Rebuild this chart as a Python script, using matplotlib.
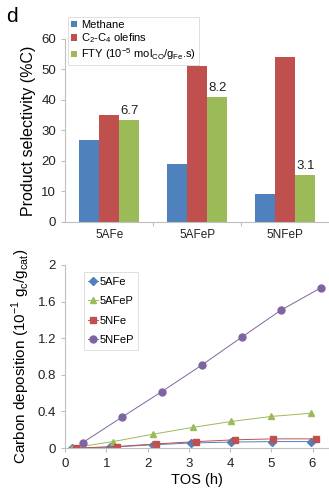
import numpy as np
import matplotlib
matplotlib.use("Agg")
import matplotlib.pyplot as plt

plt.rcParams["font.family"] = ["Liberation Sans", "DejaVu Sans"]
plt.rcParams["mathtext.fontset"] = "custom"
plt.rcParams["mathtext.rm"] = "Liberation Sans"

# Product selectivity per catalyst
catalysts = ["5AFe", "5AFeP", "5NFeP"]
methane = [27, 19, 9]
olefins = [35, 51, 54]
fty = [6.7, 8.2, 3.1]  # 10^-5 mol_CO/g_Fe.s, drawn on the %C axis times 5
fty_scale = 5

# Carbon deposition vs. time on stream
tos_5afe = [0.16, 1.09, 2.12, 3.06, 4.03, 5.01, 5.96]
dep_5afe = [0.0, 0.01, 0.035, 0.055, 0.065, 0.07, 0.07]
tos_5afep = [0.16, 1.16, 2.12, 3.09, 4.03, 5.0, 5.96]
dep_5afep = [0.0, 0.07, 0.15, 0.225, 0.29, 0.345, 0.38]
tos_5nfe = [0.27, 1.25, 2.2, 3.18, 4.13, 5.05, 6.09]
dep_5nfe = [0.0, 0.015, 0.045, 0.07, 0.09, 0.1, 0.1]
tos_5nfep = [0.43, 1.37, 2.34, 3.31, 4.28, 5.23, 6.2]
dep_5nfep = [0.06, 0.335, 0.615, 0.905, 1.21, 1.505, 1.75]

blue = "#4F81BD"
red = "#C0504D"
green = "#9BBB59"
purple = "#8064A2"
spine_col = "#BFBFBF"

fig = plt.figure(figsize=(3.29, 4.92), dpi=100)


def style_axes(ax):
    for s in ["top", "right"]:
        ax.spines[s].set_visible(False)
    for s in ["left", "bottom"]:
        ax.spines[s].set_color(spine_col)
        ax.spines[s].set_linewidth(0.8)
    ax.tick_params(axis="both", colors=spine_col, labelcolor="#222222",
                   labelsize=9.5, length=3, width=0.8)


# Top: bar chart
ax1 = fig.add_axes([0.198, 0.549, 0.802, 0.372])
x = np.arange(len(catalysts))
w = 0.23
ax1.bar(x - w, methane, w, color=blue, label="Methane")
ax1.bar(x, olefins, w, color=red, label="C$_\\mathrm{2}$-C$_\\mathrm{4}$ olefins")
fty_bars = ax1.bar(x + w, [v * fty_scale for v in fty], w, color=green,
                   label="FTY (10$^\\mathrm{-5}$ mol$_\\mathrm{CO}$/g$_\\mathrm{Fe}$.s)")
for b, v in zip(fty_bars, fty):
    ax1.text(b.get_x() + b.get_width() / 2, b.get_height() + 1.0, f"{v}",
             ha="center", va="bottom", fontsize=9.5, color="#222222")
ax1.set_xlim(-0.5, 2.5)
ax1.set_ylim(0, 60)
ax1.set_yticks(range(0, 61, 10))
ax1.set_xticks(x)
ax1.set_xticklabels(catalysts)
ax1.set_xticks([0.5, 1.5], minor=True)
style_axes(ax1)
ax1.tick_params(axis="x", which="major", length=0, pad=5, labelsize=8.5)
ax1.tick_params(axis="x", which="minor", length=3, width=0.8, colors=spine_col)
ax1.set_ylabel("Product selectivity (%C)", fontsize=11.5, labelpad=4)
leg1 = ax1.legend(loc="upper left", bbox_to_anchor=(0.01, 1.12), fontsize=8,
                  frameon=True, fancybox=False, handlelength=0.5,
                  handleheight=0.5, handletextpad=0.4, borderpad=0.3,
                  labelspacing=0.1, borderaxespad=0)
leg1.get_frame().set_edgecolor("#D0D0D0")
leg1.get_frame().set_linewidth(0.6)

fig.text(0.02, 0.985, "d", fontsize=15, va="top", ha="left")

# Bottom: carbon deposition lines
ax2 = fig.add_axes([0.198, 0.0894, 0.802, 0.372])
ax2.plot(tos_5afe, dep_5afe, color=blue, lw=0.7, marker="D", ms=3.8,
         label="5AFe")
ax2.plot(tos_5afep, dep_5afep, color=green, lw=0.7, marker="^", ms=5,
         label="5AFeP")
ax2.plot(tos_5nfe, dep_5nfe, color=red, lw=0.7, marker="s", ms=4.5,
         label="5NFe")
ax2.plot(tos_5nfep, dep_5nfep, color=purple, lw=0.7, marker="o", ms=5,
         label="5NFeP")
ax2.set_xlim(0, 6.4)
ax2.set_ylim(0, 2)
ax2.set_xticks(range(0, 7))
ax2.set_yticks([0, 0.4, 0.8, 1.2, 1.6, 2])
ax2.set_yticklabels(["0", "0.4", "0.8", "1.2", "1.6", "2"])
style_axes(ax2)
ax2.tick_params(axis="x", pad=4)
ax2.set_xlabel("TOS (h)", fontsize=10.5, labelpad=2)
ax2.set_ylabel("Carbon deposition (10$^\\mathrm{-1}$ g$_\\mathrm{c}$/g$_\\mathrm{cat}$)",
               fontsize=11, labelpad=4)
leg2 = ax2.legend(loc="upper left", bbox_to_anchor=(0.07, 0.96), fontsize=8,
                  frameon=True, fancybox=False, handlelength=0.9,
                  handletextpad=0.1, borderpad=0.4, labelspacing=0.85,
                  borderaxespad=0)
leg2.get_frame().set_edgecolor("#D0D0D0")
leg2.get_frame().set_linewidth(0.6)

fig.savefig("out.png", dpi=100)
